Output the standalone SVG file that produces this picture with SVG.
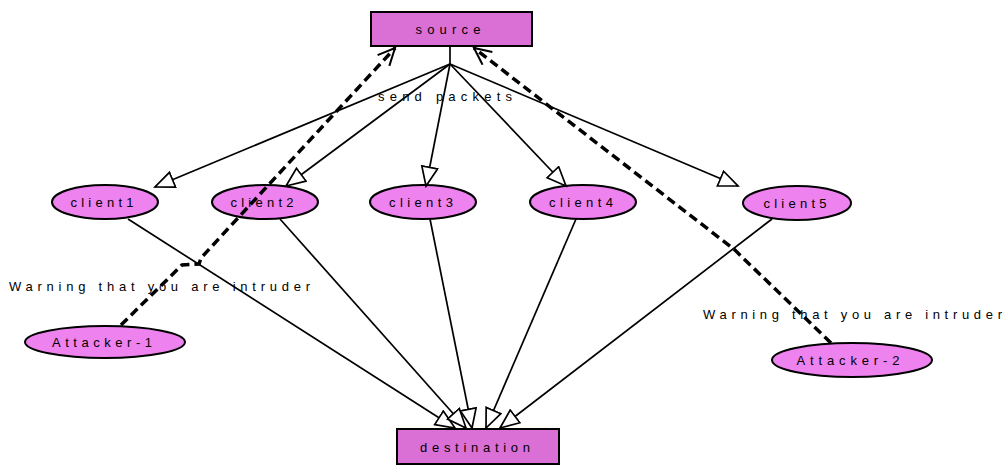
<svg xmlns="http://www.w3.org/2000/svg" width="1004" height="466" viewBox="0 0 1004 466">
<style>
.box{fill:#da6fd6;stroke:#000;stroke-width:2}
.ell{fill:#ee82ee;stroke:#000;stroke-width:2}
.lbl{font-family:"Liberation Sans",Arial,sans-serif;font-size:13px;fill:#000;text-anchor:middle}
.elbl{font-family:"Liberation Sans",Arial,sans-serif;font-size:13px;fill:#000}
.edge{fill:none;stroke:#000;stroke-width:1.7}
.dash{fill:none;stroke:#000;stroke-width:3.5;stroke-dasharray:9 5}
</style>
<defs>
<marker id="tri" markerUnits="userSpaceOnUse" markerWidth="24" markerHeight="20" refX="20" refY="9" orient="auto">
<path d="M1,1 L20,9 L1,17 Z" fill="#fff" stroke="#000" stroke-width="1.7"/>
</marker>
<marker id="vee" markerUnits="userSpaceOnUse" markerWidth="22" markerHeight="20" refX="19" refY="9" orient="auto">
<path d="M2,1 L19,9 L2,17" fill="none" stroke="#000" stroke-width="2" stroke-dasharray="none"/>
</marker>
</defs>
<g id="source">
<rect class="box" x="371" y="12" width="161" height="34"/>
<text class="lbl" x="448" y="34" textLength="65" lengthAdjust="spacing">source</text>
</g>
<g id="destination">
<rect class="box" x="397" y="429" width="162" height="35"/>
<text class="lbl" x="475" y="452" textLength="110" lengthAdjust="spacing">destination</text>
</g>
<g id="client1">
<ellipse class="ell" cx="105" cy="202" rx="53" ry="17"/>
<text class="lbl" x="102" y="207" textLength="63" lengthAdjust="spacing">client1</text>
</g>
<g id="client2">
<ellipse class="ell" cx="265" cy="202" rx="53" ry="17"/>
<text class="lbl" x="262" y="207" textLength="63" lengthAdjust="spacing">client2</text>
</g>
<g id="client3">
<ellipse class="ell" cx="423" cy="202" rx="53" ry="17"/>
<text class="lbl" x="421" y="207" textLength="64" lengthAdjust="spacing">client3</text>
</g>
<g id="client4">
<ellipse class="ell" cx="583" cy="202" rx="53" ry="17"/>
<text class="lbl" x="581" y="207" textLength="64" lengthAdjust="spacing">client4</text>
</g>
<g id="client5">
<ellipse class="ell" cx="797" cy="203" rx="54" ry="17"/>
<text class="lbl" x="795" y="208" textLength="63" lengthAdjust="spacing">client5</text>
</g>
<g id="attacker1">
<ellipse class="ell" cx="105" cy="342" rx="80" ry="16"/>
<text class="lbl" x="102" y="347" textLength="100" lengthAdjust="spacing">Attacker-1</text>
</g>
<g id="attacker2">
<ellipse class="ell" cx="852" cy="360" rx="80" ry="17"/>
<text class="lbl" x="848" y="365" textLength="103" lengthAdjust="spacing">Attacker-2</text>
</g>
<g id="edges">
<line class="edge" x1="450" y1="46" x2="450" y2="64"/>
<line class="edge" x1="450" y1="64" x2="155" y2="187" marker-end="url(#tri)"/>
<line class="edge" x1="450" y1="64" x2="286" y2="186" marker-end="url(#tri)"/>
<line class="edge" x1="450" y1="64" x2="426" y2="186" marker-end="url(#tri)"/>
<line class="edge" x1="450" y1="64" x2="566" y2="186" marker-end="url(#tri)"/>
<line class="edge" x1="450" y1="64" x2="738" y2="186" marker-end="url(#tri)"/>
<line class="edge" x1="128" y1="219" x2="455" y2="428" marker-end="url(#tri)"/>
<line class="edge" x1="280" y1="219" x2="466" y2="428" marker-end="url(#tri)"/>
<line class="edge" x1="430" y1="219" x2="472" y2="428" marker-end="url(#tri)"/>
<line class="edge" x1="576" y1="219" x2="486" y2="428" marker-end="url(#tri)"/>
<line class="edge" x1="772" y1="219" x2="500" y2="428" marker-end="url(#tri)"/>
<polyline class="dash" points="121,325 182,265 199,264 201,258 395,48" marker-end="url(#vee)"/>
<polyline class="dash" points="831,343 741,256 735,250 474,48" marker-end="url(#vee)"/>
<text class="elbl" x="378" y="101" textLength="134" lengthAdjust="spacing">send packets</text>
<text class="elbl" x="9" y="291" textLength="301" lengthAdjust="spacing">Warning that you are intruder</text>
<text class="elbl" x="703" y="319" textLength="299" lengthAdjust="spacing">Warning that you are intruder</text>
</g>
</svg>
